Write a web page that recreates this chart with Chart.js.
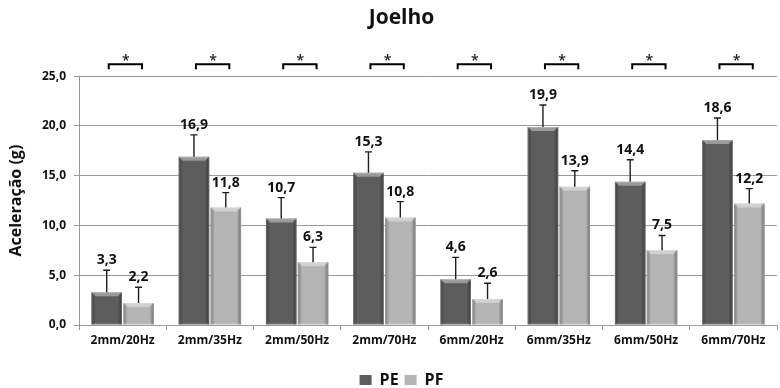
<!DOCTYPE html>
<html>
<head>
<meta charset="utf-8">
<script src="https://cdn.jsdelivr.net/npm/chart.js@4.4.1/dist/chart.umd.min.js"></script>
<style>
  html, body { margin: 0; padding: 0; background: #ffffff; }
  #wrap { width: 780px; height: 388px; }
</style>
</head>
<body>
<div id="wrap"><canvas id="c" width="780" height="388"></canvas></div>
<script>
// Categories (amplitude / frequency)
const categories = ['2mm/20Hz', '2mm/35Hz', '2mm/50Hz', '2mm/70Hz', '6mm/20Hz', '6mm/35Hz', '6mm/50Hz', '6mm/70Hz'];
// Mean acceleration (g)
const peValues = [3.3, 16.9, 10.7, 15.3, 4.6, 19.9, 14.4, 18.6];
const pfValues = [2.2, 11.8, 6.3, 10.8, 2.6, 13.9, 7.5, 12.2];
// Standard deviation (upper error bar)
const peErrors = [2.2, 2.2, 2.1, 2.1, 2.2, 2.2, 2.2, 2.2];
const pfErrors = [1.6, 1.5, 1.5, 1.6, 1.6, 1.6, 1.5, 1.5];
// Significance markers per category
const significance = ['*', '*', '*', '*', '*', '*', '*', '*'];
// Y axis tick labels
const yTicks = ['0,0', '5,0', '10,0', '15,0', '20,0', '25,0'];

const errors = [peErrors, pfErrors];
const FONT = '"Open Sans", Lato, "DejaVu Sans", sans-serif';
const fmt = v => v.toFixed(1).replace('.', ',');
const LEGEND_SHIFT = 10;

// Bevel shading, error bars, value labels and significance brackets
const decorations = {
  id: 'decorations',
  afterDatasetsDraw(chart) {
    const ctx = chart.ctx;
    const y = chart.scales.y;
    ctx.save();
    // bevel on every bar
    chart.data.datasets.forEach((ds, di) => {
      chart.getDatasetMeta(di).data.forEach(bar => {
        const l = bar.x - bar.width / 2, r = bar.x + bar.width / 2;
        const t = bar.y, b = bar.base, w = r - l;
        const g = ctx.createLinearGradient(l, 0, r, 0);
        g.addColorStop(0, 'rgba(0,0,0,0.32)');
        g.addColorStop(0.14, 'rgba(0,0,0,0)');
        g.addColorStop(0.86, 'rgba(0,0,0,0)');
        g.addColorStop(1, 'rgba(0,0,0,0.40)');
        ctx.fillStyle = g;
        ctx.fillRect(l, t, w, b - t);
        const bev = Math.min(4, (b - t) / 2);
        ctx.beginPath();
        ctx.moveTo(l, t); ctx.lineTo(r, t); ctx.lineTo(r - bev, t + bev); ctx.lineTo(l + bev, t + bev);
        ctx.closePath();
        ctx.fillStyle = 'rgba(255,255,255,0.38)';
        ctx.fill();
        ctx.strokeStyle = 'rgba(255,255,255,0.22)';
        ctx.lineWidth = 1;
        ctx.strokeRect(l + 0.5, t + 0.5, w - 1, b - t - 1);
      });
    });
    // error bars and value labels
    chart.data.datasets.forEach((ds, di) => {
      chart.getDatasetMeta(di).data.forEach((bar, i) => {
        const v = ds.data[i];
        const top = y.getPixelForValue(v + errors[di][i]);
        ctx.strokeStyle = '#1e1e1e';
        ctx.lineWidth = 1.4;
        ctx.beginPath();
        ctx.moveTo(bar.x, bar.y);
        ctx.lineTo(bar.x, top);
        ctx.moveTo(bar.x - 3.5, top);
        ctx.lineTo(bar.x + 3.5, top);
        ctx.stroke();
        ctx.fillStyle = '#111';
        ctx.font = 'bold 14px ' + FONT;
        ctx.textAlign = 'center';
        ctx.textBaseline = 'alphabetic';
        ctx.fillText(fmt(v), bar.x, top - 6);
      });
    });
    // significance brackets
    const m0 = chart.getDatasetMeta(0).data, m1 = chart.getDatasetMeta(1).data;
    significance.forEach((s, i) => {
      if (!s) return;
      const x0 = m0[i].x + 2, x1 = m1[i].x + 3.5;
      const yb = chart.chartArea.top - 12;
      ctx.strokeStyle = '#000';
      ctx.lineWidth = 2;
      ctx.beginPath();
      ctx.moveTo(x0, yb + 5); ctx.lineTo(x0, yb); ctx.lineTo(x1, yb); ctx.lineTo(x1, yb + 5);
      ctx.stroke();
      ctx.fillStyle = '#222';
      ctx.font = '600 14px ' + FONT;
      ctx.textAlign = 'center';
      ctx.fillText(s, (x0 + x1) / 2 + 0.5, yb + 1);
    });
    ctx.restore();
  }
};

new Chart(document.getElementById('c'), {
  type: 'bar',
  data: {
    labels: categories,
    datasets: [
      { label: 'PE', data: peValues, backgroundColor: '#5d5d5d', borderWidth: 0 },
      { label: 'PF', data: pfValues, backgroundColor: '#b4b4b4', borderWidth: 0 }
    ]
  },
  options: {
    responsive: false,
    devicePixelRatio: 1,
    animation: false,
    layout: { padding: { top: 5, left: 26, right: 3, bottom: -LEGEND_SHIFT } },
    datasets: { bar: { categoryPercentage: 0.73, barPercentage: 0.96 } },
    plugins: {
      tooltip: { enabled: false },
      title: {
        display: true,
        text: 'Joelho',
        color: '#111',
        font: { family: FONT, size: 21, weight: 'bold', lineHeight: 1.2 },
        padding: { top: 0, bottom: 46 }
      },
      legend: {
        position: 'bottom',
        labels: {
          color: '#111',
          font: { family: FONT, size: 16, weight: 'bold' },
          boxWidth: 12,
          boxHeight: 10,
          padding: 6
        }
      }
    },
    scales: {
      x: {
        grid: { display: true, drawOnChartArea: false, drawTicks: true, tickLength: 5, color: '#9a9a9a', offset: true },
        border: { color: '#9a9a9a' },
        ticks: { color: '#111', font: { family: FONT, size: 12, weight: 'bold' }, padding: 3, maxRotation: 0 },
        afterFit(scale) {
          const lg = scale.chart.legend ? scale.chart.legend.height : 0;
          scale.height = 63 + LEGEND_SHIFT - lg;
        }
      },
      y: {
        min: 0,
        max: 25,
        ticks: {
          stepSize: 5,
          color: '#111',
          font: { family: FONT, size: 12, weight: 'bold' },
          padding: 8,
          callback: (v, i) => yTicks[i]
        },
        grid: { color: '#9a9a9a', tickLength: 5 },
        border: { color: '#9a9a9a' },
        title: {
          display: true,
          text: 'Aceleração (g)',
          color: '#111',
          font: { family: FONT, size: 16, weight: 'bold' },
          padding: { top: -19, bottom: 0 }
        },
        afterFit(scale) { scale.width = 53; }
      }
    }
  },
  plugins: [decorations]
});
</script>
</body>
</html>
